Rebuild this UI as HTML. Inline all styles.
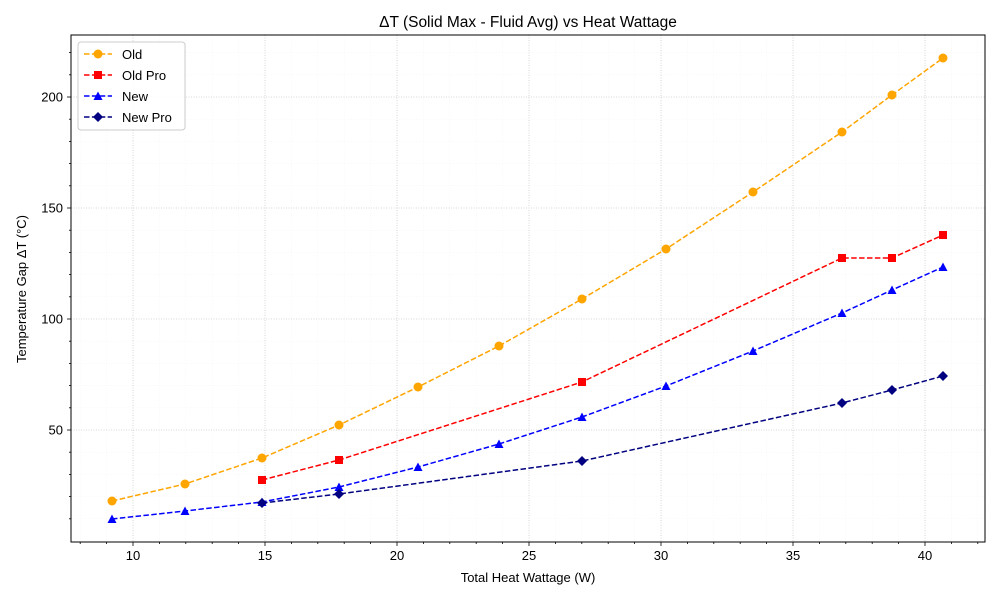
<!DOCTYPE html><html><head><style>body{margin:0;background:#fff}svg{font-family:"Liberation Sans","DejaVu Sans",sans-serif}</style></head><body>
<svg width="1000" height="600" viewBox="0 0 1000 600" xmlns="http://www.w3.org/2000/svg">
<rect width="1000" height="600" fill="#fff"/>
<g id="minor" stroke="#f3f3f3" stroke-width="0.5" stroke-dasharray="1,1.5"></g>
<g id="major" stroke="#ccc" stroke-width="0.8" stroke-dasharray="1,1.5"></g>
<g id="ticks" stroke="#000" stroke-width="0.8"></g>
<g id="labels" font-size="13" fill="#000"></g>
<rect x="71" y="35" width="914" height="507" fill="none" stroke="#000" stroke-width="1"/>
<g id="series"></g>
<text x="528" y="27" font-size="15.5" text-anchor="middle">ΔT (Solid Max - Fluid Avg) vs Heat Wattage</text>
<text x="528" y="582" font-size="13" text-anchor="middle">Total Heat Wattage (W)</text>
<text transform="translate(26,289) rotate(-90)" font-size="13" text-anchor="middle">Temperature Gap ΔT (°C)</text>
<g transform="translate(78,42)">
<rect x="0" y="0" width="107" height="88" rx="3" fill="#fff" fill-opacity="0.85" stroke="#ccc"/>
<line x1="6" y1="12" x2="34" y2="12" stroke="orange" stroke-width="1.5" stroke-dasharray="5.5,2.4"/><circle cx="20" cy="12" r="4.5" fill="orange"/>
<text x="44" y="17" font-size="13">Old</text>
<line x1="6" y1="33" x2="34" y2="33" stroke="red" stroke-width="1.5" stroke-dasharray="5.5,2.4"/><rect x="16" y="29" width="8" height="8" fill="red"/>
<text x="44" y="38" font-size="13">Old Pro</text>
<line x1="6" y1="54" x2="34" y2="54" stroke="blue" stroke-width="1.5" stroke-dasharray="5.5,2.4"/><polygon points="20,49.5 24.5,58 15.5,58" fill="blue"/>
<text x="44" y="59" font-size="13">New</text>
<line x1="6" y1="75" x2="34" y2="75" stroke="navy" stroke-width="1.5" stroke-dasharray="5.5,2.4"/><polygon points="20,70 25,75 20,80 15,75" fill="navy"/>
<text x="44" y="80" font-size="13">New Pro</text>
</g>
<script>
var NS="http://www.w3.org/2000/svg";
function el(p,t,a,txt){var e=document.createElementNS(NS,t);for(var k in a)e.setAttribute(k,a[k]);if(txt!=null)e.textContent=txt;document.getElementById(p).appendChild(e);return e;}
function X(v){return 133+(v-10)*26.4}function Y(v){return 430-(v-50)*2.22}
for(var v=8;v<=42;v++){var x=X(v);var maj=v%5==0;
 el(maj?"major":"minor","line",{x1:x,y1:35,x2:x,y2:542});
 el("ticks","line",{x1:x,y1:542,x2:x,y2:542+(maj?4:2)});
 if(maj)el("labels","text",{x:x,y:560,"text-anchor":"middle"},v);}
for(var v=10;v<=220;v+=10){var y=Y(v);var maj=v%50==0;
 el(maj?"major":"minor","line",{x1:71,y1:y,x2:985,y2:y});
 el("ticks","line",{x1:71,y1:y,x2:71-(maj?4:2),y2:y});
 if(maj)el("labels","text",{x:63,y:y+4.5,"text-anchor":"end"},v);}
var S=[
["orange","c",[[112,501],[185,484],[262,458],[339,425],[418,387],[499,346],[582,299],[666,249],[753,192],[842,132],[892,95],[943,58]]],
["red","s",[[262,480],[339,460],[582,382],[842,258],[892,258],[943,235]]],
["blue","t",[[112,519],[185,511],[262,502],[339,487],[418,467],[499,444],[582,417],[666,386],[753,351],[842,313],[892,290],[943,267]]],
["navy","d",[[262,503],[339,494],[582,461],[842,403],[892,390],[943,376]]]];
S.forEach(function(s){var c=s[0];
 el("series","polyline",{points:s[2].map(function(p){return p.join(",")}).join(" "),fill:"none",stroke:c,"stroke-width":1.5,"stroke-dasharray":"5.5,2.4"});
 s[2].forEach(function(p){var x=p[0],y=p[1];
  if(s[1]=="c")el("series","circle",{cx:x,cy:y,r:4.5,fill:c});
  else if(s[1]=="s")el("series","rect",{x:x-4,y:y-4,width:8,height:8,fill:c});
  else if(s[1]=="t")el("series","polygon",{points:(x)+","+(y-4.5)+" "+(x+4.5)+","+(y+4)+" "+(x-4.5)+","+(y+4),fill:c});
  else el("series","polygon",{points:x+","+(y-5)+" "+(x+5)+","+y+" "+x+","+(y+5)+" "+(x-5)+","+y,fill:c});});});
</script>
</svg></body></html>
